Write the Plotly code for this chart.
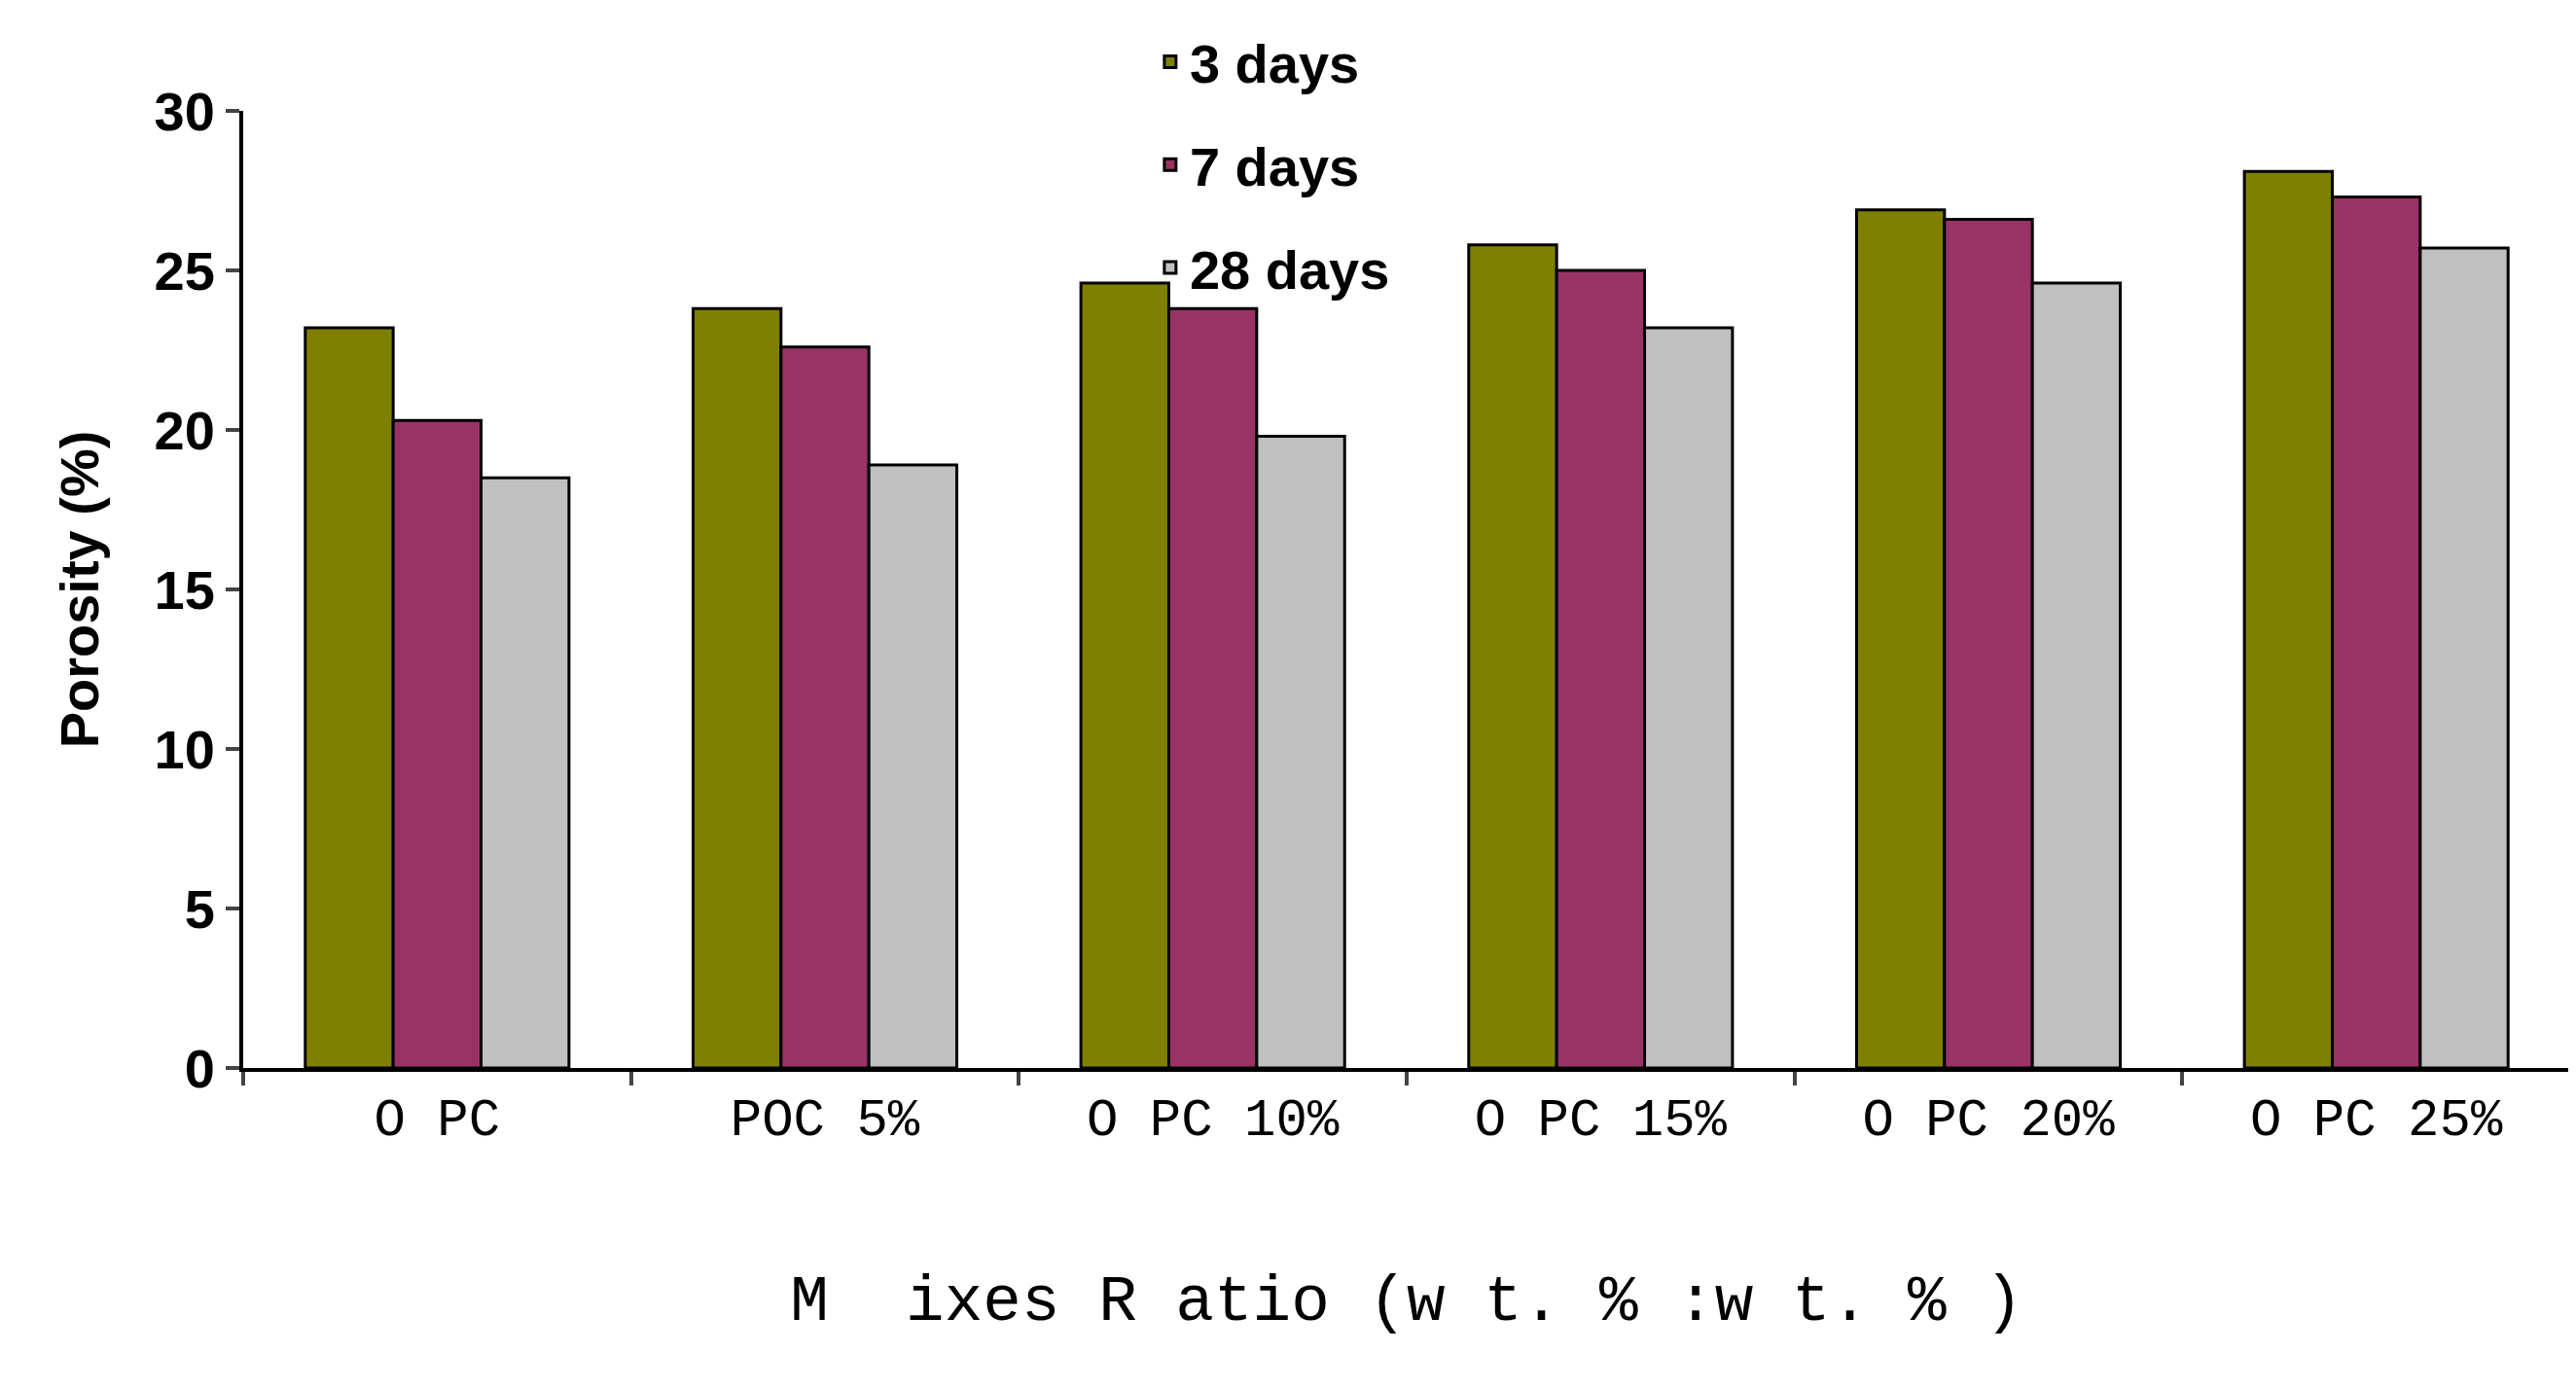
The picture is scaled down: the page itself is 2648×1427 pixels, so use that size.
import plotly.graph_objects as go

categories = ["O PC", "POC 5%", "O PC 10%", "O PC 15%", "O PC 20%", "O PC 25%"]
days3 = [23.2, 23.8, 24.6, 25.8, 26.9, 28.1]
days7 = [20.3, 22.6, 23.8, 25.0, 26.6, 27.3]
days28 = [18.5, 18.9, 19.8, 23.2, 24.6, 25.7]
series = [("3 days", days3, "#808000"), ("7 days", days7, "#993366"), ("28 days", days28, "#C0C0C0")]

fig = go.Figure()
for name, vals, col in series:
    fig.add_bar(x=categories, y=vals, name=name, legendgroup=name,
                marker=dict(color=col, line=dict(color="black", width=3)))

fig.update_layout(
    width=2648, height=1427, plot_bgcolor="white", paper_bgcolor="white",
    barmode="group", bargap=0.32, bargroupgap=0,
    margin=dict(l=242, r=14, t=86, b=337),
    font=dict(family="Liberation Sans", color="black"),
    legend=dict(x=0.39, y=1.095, xanchor="left", yanchor="top", bgcolor="rgba(0,0,0,0)",
                font=dict(size=56, family="Liberation Sans", weight="bold"), tracegroupgap=30),
    showlegend=True,
)
fig.update_yaxes(range=[0, 30], dtick=5, showline=True, linecolor="black", linewidth=4,
                 ticks="outside", ticklen=14, tickwidth=4, showgrid=False, zeroline=False,
                 tickfont=dict(size=56, weight="bold"),
                 title=dict(text="Porosity (%)", font=dict(size=56, weight="bold"), standoff=40))
fig.update_xaxes(showline=True, linecolor="black", linewidth=4, ticks="outside", tickson="boundaries",
                 ticklen=14, tickwidth=4, showgrid=False,
                 tickfont=dict(size=54, family="Liberation Mono"),
                 title=dict(text="M  ixes R atio (w t. % :w t. % )", font=dict(size=66, family="Liberation Mono"), standoff=130))
fig.write_html("out.html")
